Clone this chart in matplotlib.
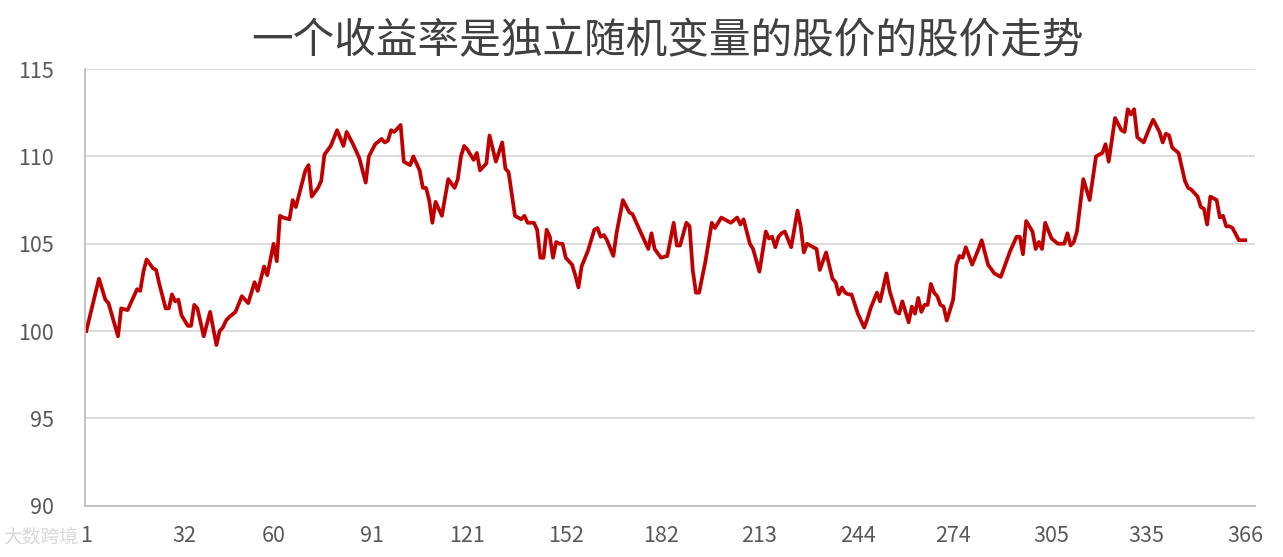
import matplotlib.pyplot as plt

plt.rcParams['font.family'] = ['Noto Sans CJK SC', 'DejaVu Sans']

# values (day, price)
days = [1, 5, 7, 8, 11, 12, 14, 17, 18, 19, 20, 22, 23, 24, 26, 27, 28, 29, 30,
        31, 33, 34, 35, 36, 38, 40, 42, 43, 44, 45, 46, 48, 50, 52, 54, 55, 57, 58,
        60, 61, 62, 63, 65, 66, 67, 70, 71, 72, 74, 75, 76, 78, 80, 82, 83, 85, 87,
        89, 90, 92, 94, 95, 96, 97, 98, 100, 101, 103, 104, 106, 107, 108, 109, 110,
        111, 113, 115, 117, 118, 119, 120, 121, 123, 124, 125, 127, 128, 130, 132,
        133, 134, 136, 138, 139, 140, 142, 143, 144, 145, 146, 147, 148, 149, 150,
        151, 152, 153, 154, 155, 156, 157, 159, 161, 162, 163, 164, 165, 167, 168,
        170, 172, 173, 175, 178, 179, 180, 182, 184, 186, 187, 188, 190, 191, 192,
        193, 194, 196, 198, 199, 201, 203, 204, 206, 207, 208, 210, 211, 213, 215,
        216, 217, 218, 219, 220, 221, 223, 225, 226, 227, 228, 230, 231, 232, 234,
        236, 237, 238, 239, 240, 241, 242, 244, 246, 247, 248, 250, 251, 253, 254,
        256, 257, 258, 259, 260, 261, 262, 263, 264, 265, 266, 267, 268, 269, 270,
        271, 272, 274, 275, 276, 277, 278, 280, 282, 283, 285, 287, 289, 290, 292,
        294, 295, 296, 297, 299, 300, 301, 302, 303, 305, 307, 309, 310, 311, 312,
        313, 315, 317, 319, 321, 322, 323, 325, 327, 328, 329, 330, 331, 332, 334,
        336, 337, 339, 340, 341, 342, 343, 345, 347, 348, 349, 351, 352, 353, 354,
        355, 356, 357, 358, 359, 360, 361, 362, 364, 366]
price = [100.0, 103.0, 101.8, 101.6, 99.7, 101.3, 101.2, 102.4, 102.3, 103.4, 104.1,
         103.6, 103.5, 102.7, 101.3, 101.3, 102.1, 101.7, 101.8, 100.9, 100.3, 100.3,
         101.5, 101.3, 99.7, 101.1, 99.2, 100.0, 100.2, 100.6, 100.8, 101.1, 102.0,
         101.6, 102.8, 102.3, 103.7, 103.2, 105.0, 104.0, 106.6, 106.5, 106.4, 107.5,
         107.1, 109.2, 109.5, 107.7, 108.2, 108.6, 110.1, 110.6, 111.5, 110.6, 111.4,
         110.7, 109.9, 108.5, 110.0, 110.7, 111.0, 110.8, 110.9, 111.5, 111.4, 111.8,
         109.7, 109.5, 110.0, 109.2, 108.2, 108.2, 107.5, 106.2, 107.4, 106.6, 108.7,
         108.2, 108.7, 110.0, 110.6, 110.4, 109.8, 110.2, 109.2, 109.6, 111.2, 109.7,
         110.8, 109.3, 109.1, 106.6, 106.4, 106.6, 106.2, 106.2, 105.8, 104.2, 104.2,
         105.8, 105.4, 104.2, 105.1, 105.0, 105.0, 104.2, 104.0, 103.8, 103.2, 102.5,
         103.7, 104.6, 105.8, 105.9, 105.4, 105.5, 105.2, 104.3, 105.6, 107.5, 106.8,
         106.7, 105.9, 104.7, 105.6, 104.7, 104.2, 104.3, 106.2, 104.9, 104.9, 106.2,
         106.0, 103.5, 102.2, 102.2, 104.0, 106.2, 105.9, 106.5, 106.3, 106.2, 106.5,
         106.1, 106.4, 105.0, 104.7, 103.4, 105.7, 105.3, 105.4, 104.8, 105.4, 105.6,
         105.7, 104.8, 106.9, 106.0, 104.5, 105.0, 104.8, 104.7, 103.5, 104.5, 103.0,
         102.8, 102.1, 102.5, 102.2, 102.1, 102.1, 101.0, 100.2, 100.7, 101.3, 102.2,
         101.7, 103.3, 102.3, 101.1, 101.0, 101.7, 101.1, 100.5, 101.4, 101.0, 101.9,
         101.1, 101.5, 101.5, 102.7, 102.2, 102.0, 101.5, 101.4, 100.6, 101.8, 103.8,
         104.3, 104.2, 104.8, 103.8, 104.7, 105.2, 103.8, 103.3, 103.1, 103.6, 104.6,
         105.4, 105.4, 104.4, 106.3, 105.7, 104.7, 105.1, 104.7, 106.2, 105.3, 105.0,
         105.0, 105.6, 104.9, 105.1, 105.7, 108.7, 107.5, 110.0, 110.2, 110.7, 109.7,
         112.2, 111.5, 111.4, 112.7, 112.4, 112.7, 111.1, 110.8, 111.7, 112.1, 111.4,
         110.8, 111.3, 111.2, 110.5, 110.2, 108.6, 108.2, 108.1, 107.7, 107.1, 107.0,
         106.1, 107.7, 107.6, 107.5, 106.5, 106.6, 106.0, 106.0, 105.9, 105.2, 105.2]

xticks = [1, 32, 60, 91, 121, 152, 182, 213, 244, 274, 305, 335, 366]
yticks = [90, 95, 100, 105, 110, 115]

fig = plt.figure(figsize=(12.83, 5.57), dpi=100)
ax = fig.add_axes([0.066, 0.092, 0.912, 0.784])

ax.plot(days, price, color='#C00000', linewidth=2.7, solid_joinstyle='round')

ax.set_xlim(0.5, 369)
ax.set_ylim(90, 115)
ax.set_xticks(xticks)
ax.set_yticks(yticks)
ax.tick_params(length=0, labelsize=15.5, labelcolor='#595959')
ax.tick_params(axis='y', pad=22)
ax.tick_params(axis='x', pad=14)
ax.grid(axis='y', color='#D9D9D9', linewidth=1.3)
ax.set_axisbelow(True)
for s in ['top', 'right']:
    ax.spines[s].set_visible(False)
ax.spines['left'].set_color('#BFBFBF')
ax.spines['bottom'].set_color('#BFBFBF')
ax.spines['left'].set_linewidth(1.3)
ax.spines['bottom'].set_linewidth(1.3)

fig.text(0.52, 0.925, '一个收益率是独立随机变量的股价的股价走势', ha='center', va='center',
         fontsize=30, color='#404040', fontweight='light')

# corner watermark, kept left of the first tick label
fig.text(0.061, 0.036, '大数跨境', ha='right', va='center', fontsize=13.5,
         color='#C8C8C8', alpha=0.7)

fig.savefig('out.png', dpi=100)
